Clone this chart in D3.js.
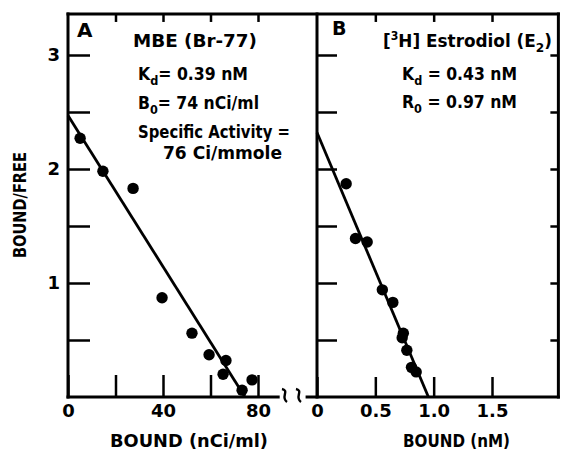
<!DOCTYPE html>
<html>
<head>
<meta charset="utf-8">
<script src="https://cdn.jsdelivr.net/npm/d3@7"></script>
<style>
  html, body { margin: 0; padding: 0; background: #fff; }
  svg { display: block; }
  text { font-family: "DejaVu Sans", sans-serif; font-weight: bold; fill: #000; }
</style>
</head>
<body>
<svg id="chart" width="562" height="450"></svg>
<script>
// ---- data ----
const aBound = [5.1, 14.7, 27.4, 39.6, 52.2, 59.4, 66.5, 65.3, 73.3, 77.5];
const aRatio = [2.27, 1.98, 1.83, 0.87, 0.56, 0.37, 0.32, 0.20, 0.06, 0.15];
const bBound = [0.25, 0.33, 0.43, 0.56, 0.65, 0.74, 0.73, 0.77, 0.81, 0.85];
const bRatio = [1.87, 1.39, 1.36, 0.94, 0.83, 0.56, 0.52, 0.41, 0.26, 0.22];
// fitted lines: [y-intercept (bound/free), x-intercept (bound)]
const fitA = [2.47, 74.5];
const fitB = [2.32, 0.955];
const yTicks = [0.5, 1, 1.5, 2, 2.5, 3];
const yTickLabels = ["", "1", "", "2", "", "3"];
const aXTicks = [0, 20, 40, 60, 80];
const aXTickLabels = ["0", "", "40", "", "80"];
const bXTicks = [0, 0.5, 1.0, 1.5];
const bXTickLabels = ["0", "0.5", "1.0", "1.5"];

const FONT = "DejaVu Sans, sans-serif";
const svg = d3.select("#chart");
svg.append("rect").attr("width", 562).attr("height", 450).attr("fill", "#fff");

const y = d3.scaleLinear([0, 3], [397, 55]);
const xA = d3.scaleLinear([0, 80], [68, 258]);
const xB = d3.scaleLinear([0, 1.5], [317, 492]);
const yTop = y(3.36), yBot = y(0);

// frame lines
const frame = svg.append("g").attr("stroke", "#000").attr("stroke-width", 3).attr("stroke-linecap", "square");
frame.append("line").attr("x1", xA(0)).attr("x2", xA(0)).attr("y1", yTop).attr("y2", yBot);
frame.append("line").attr("x1", xA(0)).attr("x2", xA(88.5)).attr("y1", yBot).attr("y2", yBot);
frame.append("line").attr("x1", xA(0)).attr("x2", xB(2.069)).attr("y1", yTop).attr("y2", yTop);
frame.append("line").attr("x1", xB(0)).attr("x2", xB(0)).attr("y1", yTop).attr("y2", yBot);
frame.append("line").attr("x1", xB(-0.085)).attr("x2", xB(2.069)).attr("y1", yBot).attr("y2", yBot);
frame.append("line").attr("x1", xB(2.069)).attr("x2", xB(2.069)).attr("y1", yTop).attr("y2", yBot);

function styleAxis(g, fs) {
  g.select(".domain").remove();
  g.selectAll(".tick line").attr("stroke", "#000").attr("stroke-width", 2.5);
  g.selectAll(".tick text").attr("font-size", fs).attr("font-family", FONT).attr("font-weight", "bold").attr("fill", "#000");
}

// Panel A axes
svg.append("g").attr("transform", `translate(${xA(0)},0)`)
  .call(d3.axisLeft(y).tickValues(yTicks).tickSize(-22).tickPadding(8).tickFormat((d, i) => yTickLabels[i]))
  .call(g => styleAxis(g, 18));
svg.append("g").attr("transform", `translate(0,${yBot})`)
  .call(d3.axisBottom(xA).tickValues(aXTicks).tickSize(-22).tickPadding(7).tickFormat((d, i) => aXTickLabels[i]))
  .call(g => styleAxis(g, 18));
svg.append("g").attr("transform", `translate(0,${yTop})`)
  .call(d3.axisTop(xA).tickValues(aXTicks.slice(1)).tickSize(-8).tickFormat(""))
  .call(g => styleAxis(g, 18));

// Panel B axes
svg.append("g").attr("transform", `translate(${xB(0)},0)`)
  .call(d3.axisLeft(y).tickValues(yTicks).tickSize(-20).tickFormat(""))
  .call(g => styleAxis(g, 18));
svg.append("g").attr("transform", `translate(${xB(2.069)},0)`)
  .call(d3.axisRight(y).tickValues(yTicks).tickSize(-8).tickFormat(""))
  .call(g => styleAxis(g, 18));
svg.append("g").attr("transform", `translate(0,${yBot})`)
  .call(d3.axisBottom(xB).tickValues(bXTicks).tickSize(-20).tickPadding(7).tickFormat((d, i) => bXTickLabels[i]))
  .call(g => styleAxis(g, 18));
svg.append("g").attr("transform", `translate(0,${yTop})`)
  .call(d3.axisTop(xB).tickValues(bXTicks.slice(1)).tickSize(-8).tickFormat(""))
  .call(g => styleAxis(g, 18));

// axis breaks
[285, 299].forEach(cx => {
  const p = d3.path();
  const cy = yBot - 1;
  p.moveTo(cx - 3, cy - 7);
  p.bezierCurveTo(cx + 5, cy - 5, cx - 5, cy + 1, cx + 2, cy + 6);
  svg.append("path").attr("d", p.toString()).attr("fill", "none").attr("stroke", "#000").attr("stroke-width", 2.4);
});

// fitted lines
const line = d3.line();
svg.append("path").attr("d", line([[xA(0), y(fitA[0])], [xA(fitA[1]), y(0)]]))
  .attr("stroke", "#000").attr("stroke-width", 2.8).attr("fill", "none");
svg.append("path").attr("d", line([[xB(0), y(fitB[0])], [xB(fitB[1]), y(0)]]))
  .attr("stroke", "#000").attr("stroke-width", 2.8).attr("fill", "none");

// points
svg.append("g").selectAll("circle").data(aBound).join("circle")
  .attr("cx", d => xA(d)).attr("cy", (d, i) => y(aRatio[i])).attr("r", 5.7).attr("fill", "#000");
svg.append("g").selectAll("circle").data(bBound).join("circle")
  .attr("cx", d => xB(d)).attr("cy", (d, i) => y(bRatio[i])).attr("r", 5.7).attr("fill", "#000");

// text helpers
function label(x, yy, parts, size, width) {
  const t = svg.append("text").attr("x", x).attr("y", yy).attr("font-size", size);
  parts.forEach(p => {
    const ts = t.append("tspan").text(p.t);
    if (p.sub) ts.attr("font-size", size * 0.72).attr("dy", size * 0.3);
    if (p.sup) ts.attr("font-size", size * 0.65).attr("dy", -size * 0.4);
    if (p.back) ts.attr("dy", p.back);
  });
  if (width) t.attr("textLength", width).attr("lengthAdjust", "spacingAndGlyphs");
  return t;
}

// Panel A annotations
label(77, 37, [{t: "A"}], 20);
label(133, 47, [{t: "MBE (Br-77)"}], 18, 124);
label(138, 80, [{t: "K"}, {t: "d", sub: true}, {t: "= 0.39 nM", back: -18 * 0.3}], 18, 110);
label(138, 109, [{t: "B"}, {t: "0", sub: true}, {t: "= 74 nCi/ml", back: -18 * 0.3}], 18, 121);
label(138, 138, [{t: "Specific Activity ="}], 18, 152);
label(163, 159, [{t: "76 Ci/mmole"}], 18, 119);

// Panel B annotations
label(332, 35, [{t: "B"}], 19);
label(383, 47, [{t: "["}, {t: "3", sup: true}, {t: "H] Estrodiol (E", back: 18 * 0.4}, {t: "2", sub: true}, {t: ")", back: -18 * 0.3}], 18, 169);
label(402, 80, [{t: "K"}, {t: "d", sub: true}, {t: " = 0.43 nM", back: -18 * 0.3}], 18, 115);
label(402, 108, [{t: "R"}, {t: "0", sub: true}, {t: " = 0.97 nM", back: -18 * 0.3}], 18, 115);

// axis titles
label(110, 447, [{t: "BOUND (nCi/ml)"}], 18, 158);
label(403, 447, [{t: "BOUND (nM)"}], 18, 107);
svg.append("text").attr("transform", "translate(26,205) rotate(-90)")
  .attr("text-anchor", "middle").attr("font-size", 17)
  .attr("textLength", 106).attr("lengthAdjust", "spacingAndGlyphs").text("BOUND/FREE");
</script>
</body>
</html>
